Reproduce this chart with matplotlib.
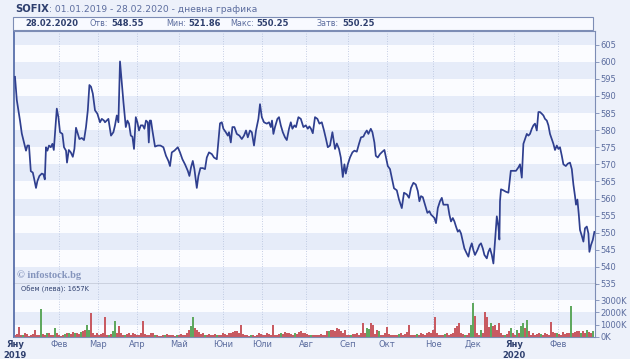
import matplotlib.pyplot as plt

W, H = 630, 359

# trading session number (0 = first session of 2019) and SOFIX close
session = [
    0.0, 0.9, 1.7, 2.5, 3.4, 4.5, 5.5, 6.2, 7.0, 7.9, 8.9, 9.5, 10.5, 11.2, 12.2, 13.4,
    14.2, 14.9, 15.5, 16.2, 17.0, 17.9, 18.7, 19.4, 20.0, 20.9, 21.7, 22.5, 23.7, 24.5,
    25.5, 26.0, 26.9, 27.9, 28.9, 29.7, 30.5, 31.4, 32.2, 33.4, 34.5, 35.5, 36.4, 37.2,
    38.0, 38.9, 40.0, 41.2, 42.5, 43.4, 44.5, 45.0, 46.7, 48.0, 49.2, 50.0, 50.9, 51.7,
    52.5, 53.4, 54.2, 54.7, 55.4, 56.2, 57.0, 57.9, 58.7, 59.5, 60.4, 61.2, 62.0, 62.9,
    63.9, 64.7, 65.5, 66.4, 66.9, 67.4, 68.0, 68.7, 70.0, 71.4, 72.7, 74.2, 75.5, 76.7,
    77.5, 78.4, 79.7, 81.4, 82.5, 83.7, 85.0, 86.4, 87.2, 88.0, 88.9, 89.7, 90.9, 91.7,
    92.7, 93.9, 95.0, 95.9, 97.0, 98.4, 99.5, 100.9, 101.7, 102.5, 103.4, 104.2, 105.4,
    106.4, 107.0, 107.9, 108.7, 109.7, 110.9, 112.2, 113.4, 114.5, 115.5, 116.4, 117.5,
    118.4, 119.5, 120.5, 121.7, 122.5, 123.4, 124.5, 125.9, 127.0, 127.9, 128.5, 129.2,
    130.0, 131.2, 132.0, 132.9, 133.9, 135.0, 135.9, 137.0, 137.9, 138.7, 139.7, 140.5,
    141.7, 142.9, 144.2, 145.4, 146.4, 147.2, 148.0, 148.9, 150.0, 151.2, 152.2, 153.4,
    154.5, 155.5, 156.4, 157.5, 158.7, 159.5, 160.0, 160.9, 162.0, 162.9, 163.9, 164.7,
    165.4, 166.4, 167.5, 168.7, 169.7, 170.9, 172.0, 173.0, 174.2, 175.0, 175.9, 176.7,
    177.9, 178.7, 179.7, 180.4, 181.4, 182.5, 183.7, 184.7, 185.5, 186.4, 187.5, 188.4,
    189.5, 190.9, 192.0, 193.4, 194.5, 195.9, 197.0, 198.0, 199.2, 200.4, 201.4, 202.2,
    203.0, 203.9, 205.0, 206.2, 207.2, 208.0, 208.9, 209.7, 210.5, 211.4, 212.5, 213.4,
    214.2, 215.4, 216.4, 217.2, 218.0, 218.9, 219.7, 220.5, 221.4, 222.2, 223.0, 223.9,
    224.7, 225.9, 226.7, 227.5, 228.4, 229.2, 230.0, 231.2, 232.2, 233.0, 233.9, 234.7,
    235.9, 236.7, 237.5, 238.4, 239.2, 240.0, 240.9, 241.7, 242.2, 242.5, 243.0, 244.2,
    245.4, 246.7, 247.9, 249.2, 250.5, 251.7, 252.5, 253.4, 254.2, 255.0, 255.9, 256.7,
    257.5, 258.4, 259.2, 260.0, 260.9, 261.7, 262.5, 263.4, 264.2, 265.0, 265.9, 266.7,
    267.5, 268.4, 269.2, 270.0, 270.9, 271.7, 272.5, 273.4, 274.2, 275.4, 276.4, 277.5,
    278.4, 279.2, 280.0, 280.5, 281.2, 281.9, 282.5, 283.5, 284.2, 285.0, 285.9, 286.7,
    287.2, 288.0, 288.9, 289.7,
]
close = [
    595.6, 588.8, 585.8, 582.8, 579.0, 576.4, 574.0, 575.5, 575.5, 568.0, 567.6, 566.0, 563.1, 565.1, 566.6, 567.3,
    567.1, 565.6, 575.0, 574.0, 575.5, 575.0, 576.0, 574.2, 578.9, 586.3, 583.8, 579.4, 578.9, 575.0,
    574.0, 570.5, 574.2, 573.5, 572.2, 574.5, 580.7, 578.9, 577.4, 577.7, 577.1, 580.9, 585.8, 593.2,
    592.7, 590.7, 585.8, 584.8, 582.3, 583.3, 582.8, 582.3, 583.3, 578.4, 579.4, 581.4, 584.3, 582.3,
    600.1, 593.7, 588.3, 585.3, 580.9, 582.8, 581.9, 578.4, 578.1, 574.5, 583.8, 582.3, 579.9, 581.4,
    581.4, 580.4, 582.8, 582.3, 576.4, 582.8, 582.8, 579.9, 575.2, 575.5, 575.5, 575.0, 572.5, 571.0,
    569.5, 573.5, 574.0, 575.0, 573.5, 571.5, 570.0, 568.1, 566.6, 569.1, 571.0, 568.6, 563.1, 566.6,
    568.9, 568.9, 568.6, 572.0, 573.5, 573.0, 572.0, 571.5, 576.9, 582.0, 582.3, 580.4, 579.4,
    578.4, 579.4, 576.4, 580.9, 580.9, 578.9, 578.4, 577.4, 578.4, 579.9, 577.9, 579.9,
    579.4, 575.5, 579.9, 583.3, 587.6, 583.8, 582.3, 581.9, 582.3, 580.9, 582.8, 578.9,
    580.9, 583.3, 583.8, 581.4, 579.4, 577.9, 577.1, 580.4, 582.3, 580.4, 581.4, 580.9,
    583.8, 583.3, 580.9, 581.4, 580.4, 581.1, 580.4, 579.1, 583.8, 583.3, 581.9, 582.3,
    579.9, 577.4, 575.0, 575.5, 579.4, 576.4, 574.5, 576.1, 574.5, 572.0, 566.3, 570.0,
    567.3, 570.0, 572.0, 573.5, 574.0, 573.7, 576.0, 577.9, 578.1, 579.1, 579.9, 578.9,
    580.4, 579.4, 576.4, 572.5, 572.0, 573.0, 573.7, 574.2, 572.0, 569.5, 568.6, 566.1,
    563.0, 562.4, 559.7, 557.2, 561.7, 561.2, 560.2, 563.1, 564.6, 564.1, 562.2, 559.2,
    560.7, 560.4, 558.2, 555.8, 556.3, 555.3, 554.8, 554.3, 552.8, 557.2, 559.2, 560.2,
    558.2, 558.2, 558.2, 555.3, 553.3, 554.3, 553.3, 551.8, 550.3, 550.8, 549.8, 547.4,
    545.4, 543.9, 543.0, 545.4, 546.9, 544.9, 543.5, 544.9, 546.4, 546.9, 545.4, 543.5,
    542.5, 544.4, 545.4, 543.5, 541.0, 547.4, 554.8, 551.8, 548.0, 559.2, 562.7, 562.4,
    562.0, 561.7, 568.1, 568.1, 568.1, 569.1, 570.0, 566.1, 576.0, 577.4, 578.9, 578.4,
    578.9, 580.4, 581.4, 581.9, 579.9, 585.3, 585.3, 584.8, 584.3, 583.3, 582.8, 581.4,
    578.9, 577.4, 576.0, 574.2, 575.5, 574.5, 575.0, 572.5, 570.0, 569.5, 570.2, 570.5,
    568.6, 564.1, 560.7, 558.2, 559.7, 555.3, 550.8, 548.9, 547.4, 551.3, 551.8, 549.8,
    544.4, 546.4, 547.9, 550.25,
]

# daily turnover in thousand leva, one value per session
volume_k = [
    150, 250, 830, 200, 150, 300, 250, 120, 200, 280,
    600, 180, 200, 2300, 250, 150, 300, 350, 200, 180,
    750, 300, 150, 100, 200, 250, 300, 350, 280, 400,
    350, 300, 250, 400, 500, 600, 1000, 600, 1950, 350,
    200, 300, 150, 250, 300, 1650, 200, 150, 250, 500,
    1300, 300, 900, 350, 200, 150, 250, 300, 200, 300,
    250, 150, 200, 300, 1300, 250, 200, 150, 300, 350,
    150, 200, 120, 100, 200, 150, 250, 180, 150, 200,
    120, 200, 150, 250, 150, 200, 300, 600, 900, 1650,
    700, 600, 400, 250, 300, 150, 200, 250, 150, 200,
    250, 180, 150, 200, 300, 250, 200, 350, 300, 400,
    450, 500, 350, 1000, 250, 200, 150, 120, 200, 150,
    100, 200, 300, 250, 200, 150, 300, 250, 200, 1000,
    150, 200, 250, 300, 250, 400, 350, 300, 250, 200,
    300, 250, 400, 500, 350, 300, 250, 200, 150, 200,
    150, 200, 180, 250, 150, 200, 450, 500, 600, 550,
    450, 700, 650, 500, 300, 600, 200, 150, 200, 250,
    250, 300, 200, 350, 1100, 300, 700, 650, 1150, 1000,
    250, 600, 500, 200, 150, 300, 800, 250, 150, 200,
    150, 200, 250, 300, 200, 250, 400, 1000, 200, 150,
    200, 250, 150, 300, 250, 200, 350, 400, 300, 600,
    1600, 300, 200, 150, 200, 250, 300, 200, 250, 300,
    700, 900, 1100, 300, 250, 200, 150, 300, 1000, 2750,
    1700, 300, 200, 600, 300, 2000, 1600, 800, 1100, 900,
    1000, 600, 1150, 300, 200, 150, 250, 500, 700, 300,
    200, 600, 300, 900, 1100, 700, 1350, 500, 200, 300,
    200, 250, 300, 250, 150, 300, 250, 200, 1200, 400,
    350, 300, 250, 200, 400, 250, 300, 350, 2550, 300,
    400, 450, 500, 300, 450, 350, 550, 400, 300, 500,
]
# sessions whose volume bar is green (the rest are red)
up_sessions = [
    4, 13, 16, 20, 25, 27, 30, 33, 36, 37, 47, 49, 50, 55, 70, 75, 81, 88, 89, 95,
    101, 118, 133, 140, 148, 157, 168, 176, 177, 182, 192, 201, 215, 225, 228, 229,
    233, 238, 245, 248, 251, 253, 254, 256, 263, 271, 278, 283, 286, 289,
]

month_start = [0, 22, 41.5, 61, 82, 104, 123.5, 145.5, 166.5, 186, 209, 229, 249.5, 271.5]
month_names = ["Яну\n2019", "Фев", "Мар", "Апр", "Май", "Юни", "Юли", "Авг",
               "Сеп", "Окт", "Ное", "Дек", "Яну\n2020", "Фев"]
price_ticks = list(range(535, 610, 5))
vol_ticks = [0, 1000, 2000, 3000]

# quote line: (label, value)
quote_date = "28.02.2020"
quote = [("Отв:", "548.55"), ("Мин:", "521.86"), ("Макс:", "550.25"), ("Затв:", "550.25")]
quote_x = [90, 166, 230, 317]

BG = "#edf1fa"
BAND = "#e6ecf9"
WHITE = "#fbfcff"
AXIS = "#7d8db5"
TEXT = "#5b6c9e"
DARK = "#2e3f6e"


def px(x, y):
    """Figure fraction from pixel position measured from the top-left corner."""
    return x / W, 1 - y / H


fig = plt.figure(figsize=(W / 100, H / 100), dpi=100, facecolor=BG)

ax = fig.add_axes([14 / W, (H - 284) / H, 581 / W, 253 / H])
axv = fig.add_axes([14 / W, (H - 337) / H, 581 / W, 53 / H], sharex=ax)

for a in (ax, axv):
    a.set_facecolor(WHITE)
    for m in month_start[1:]:
        a.axvline(m, color="#b4c0dc", linestyle=(0, (1, 2)), linewidth=0.6, zorder=1)
    for s in a.spines.values():
        s.set_color(AXIS)
        s.set_linewidth(0.8)
    a.spines["left"].set_color("#6479b0")
    a.spines["left"].set_linewidth(1.4)
    a.yaxis.tick_right()
    a.tick_params(axis="y", direction="out", length=3, width=0.6, color=AXIS,
                  labelsize=6, labelcolor=TEXT, pad=1)

# alternating price bands
for lo in range(535, 610, 10):
    ax.axhspan(lo, lo + 5, color=BAND, linewidth=0, zorder=0)
ax.plot(session, close, color="#2f3f8f", linewidth=1.25, zorder=3)
ax.set_xlim(-0.5, 290)
ax.set_ylim(535, 609)
ax.set_yticks(price_ticks)
ax.tick_params(axis="x", length=0, labelbottom=False)
ax.spines["bottom"].set_color("#5f6675")
ax.spines["bottom"].set_linewidth(1.0)

# volume panel
axv.axhspan(1000, 2000, color=BAND, linewidth=0, zorder=0)
axv.axhspan(3000, 4300, color=BAND, linewidth=0, zorder=0)
colors = ["#5fa85f" if i in up_sessions else "#c85a62" for i in range(len(volume_k))]
axv.bar(range(len(volume_k)), volume_k, width=0.55, color=colors, linewidth=0, zorder=2)
axv.set_ylim(0, 4300)
axv.set_yticks(vol_ticks)
axv.set_yticklabels([f"{v}K" for v in vol_ticks])
axv.spines["top"].set_visible(False)
axv.set_xticks(month_start)
axv.set_xticklabels(month_names)
axv.tick_params(axis="x", length=0, pad=2, labelsize=6, labelcolor=TEXT)
for lbl in axv.get_xticklabels():
    if "\n" in lbl.get_text():
        lbl.set_fontweight("bold")
        lbl.set_color(DARK)
        lbl.set_linespacing(1.3)

axv.text(0.012, 0.97, "Обем (лева): 1657K", transform=axv.transAxes, fontsize=4.8,
         color=DARK, va="top", ha="left")
fig.text(*px(17, 275), "© infostock.bg", fontsize=7.5, family="Liberation Serif",
         fontweight="bold", color="#8595bd", va="center", ha="left")

# title line
fig.text(*px(15, 9), "SOFIX", fontsize=7.2, fontweight="bold", color=DARK, va="center")
fig.text(*px(49, 9), ": 01.01.2019 - 28.02.2020 - дневна графика", fontsize=6.6,
         color=TEXT, va="center")

# quote box
box = plt.Rectangle(px(13, 30), 580 / W, 13 / H, transform=fig.transFigure,
                    facecolor="#f8faff", edgecolor=AXIS, linewidth=0.8)
fig.add_artist(box)
fig.text(*px(25, 23.5), quote_date, fontsize=6, fontweight="bold", color=DARK,
         va="center", ha="left")
for x, (label, value) in zip(quote_x, quote):
    t = fig.text(*px(x, 23.5), label, fontsize=5.8, color=TEXT, va="center", ha="left")
    # value sits just right of its label
    fig.add_artist(plt.Annotation(value, xy=(1, 0.5), xycoords=t, xytext=(2, 0),
                                  textcoords="offset points", fontsize=6, fontweight="bold",
                                  color=DARK, va="center", ha="left"))

fig.savefig("out.png", dpi=100, facecolor=BG)
